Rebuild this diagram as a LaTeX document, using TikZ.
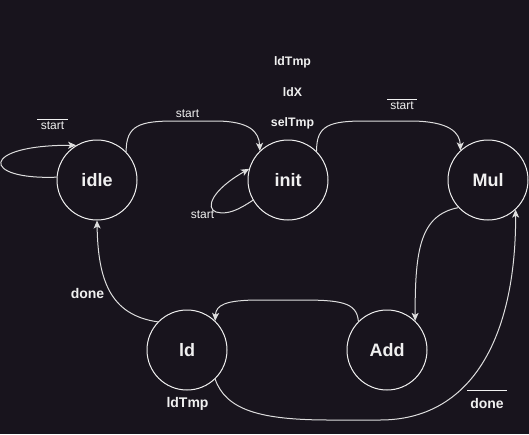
\documentclass[tikz,border=0pt]{standalone}
\usepackage{fontspec}
\setmainfont{Liberation Sans}
\usetikzlibrary{arrows.meta}
\definecolor{bg}{RGB}{24,20,29}
\definecolor{fg}{RGB}{240,240,240}
\definecolor{ln}{RGB}{222,222,222}
\newcommand\barred[3]{\vbox{\hrule height 0.9pt width #1\kern#2\hbox to #1{\hss#3\hss}}}
\tikzset{
  state/.style={circle, draw=fg, line width=1pt, minimum size=80pt, inner sep=0pt,
    text=fg, font=\fontsize{18}{20}\selectfont\bfseries},
  lbl/.style={text=fg, inner sep=0pt, anchor=base, font=\fontsize{12}{14}\selectfont},
  blbl/.style={lbl, font=\fontsize{14}{16}\selectfont\bfseries},
  mlbl/.style={lbl, font=\fontsize{12.3}{14}\selectfont\bfseries},
  edge/.style={draw=ln, line width=1pt, -{Stealth[length=8pt,width=7pt,inset=2pt]}},
}
\begin{document}
\begin{tikzpicture}[x=1pt,y=-1pt]
\fill[bg] (0,0) rectangle (529,434);
\useasboundingbox (0,0) rectangle (529,434);

\node[state] (idle) at (97,180) {idle};
\node[state] (init) at (288,180) {init};
\node[state] (mul) at (488,180) {Mul};
\node[state] (ld) at (187,350) {ld};
\node[state] (add) at (387,350) {Add};

% labels
\node[lbl] (l1) at (52.5,129) {\barred{31pt}{1.5pt}{start}};
\node[lbl] (l2) at (187.5,117) {start};
\node[lbl] (l3) at (202.5,218) {start};
\node[lbl] (l4) at (402,109) {\barred{30pt}{1.5pt}{start}};
\node[mlbl] (o1) at (292.5,65) {ldTmp};
\node[mlbl] (o2) at (292.5,96) {ldX};
\node[mlbl] (o3) at (292.5,126) {selTmp};
\node[blbl] (l5) at (87.5,298) {done};
\node[blbl] (o4) at (187.5,407) {ldTmp};
\node[blbl] (l6) at (487,408) {\barred{40pt}{7pt}{done}};

% edges
\draw[edge] (idle.176) .. controls (-20,180) and (-20,145) .. (idle.121);
\draw[edge] (idle.44) .. controls (126,125) and (140,121) .. (175,121) -- (215,121)
   .. controls (250,121) and (259,132) .. (init.134);
\draw[edge] (init.210) .. controls (238,210) and (228,215) .. (216,212)
   .. controls (205,208) and (212,190) .. (init.164);
\draw[edge] (init.45) .. controls (316,125) and (330,121) .. (365,121) -- (410,121)
   .. controls (450,121) and (460,133) .. (mul.133);
\draw[edge] (mul.223) .. controls (420,215) and (415,250) .. (add.46);
\draw[edge] (add.135) .. controls (357,302) and (340,300) .. (300,300) -- (260,300)
   .. controls (225,300) and (216,305) .. (ld.46);
\draw[edge] (ld.136) .. controls (110,315) and (98,280) .. (idle.270);
\draw[edge] (ld.-46) .. controls (226,410) and (260,420) .. (330,420) -- (380,420)
   .. controls (470,420) and (516,340) .. (mul.-47);
\end{tikzpicture}
\end{document}
